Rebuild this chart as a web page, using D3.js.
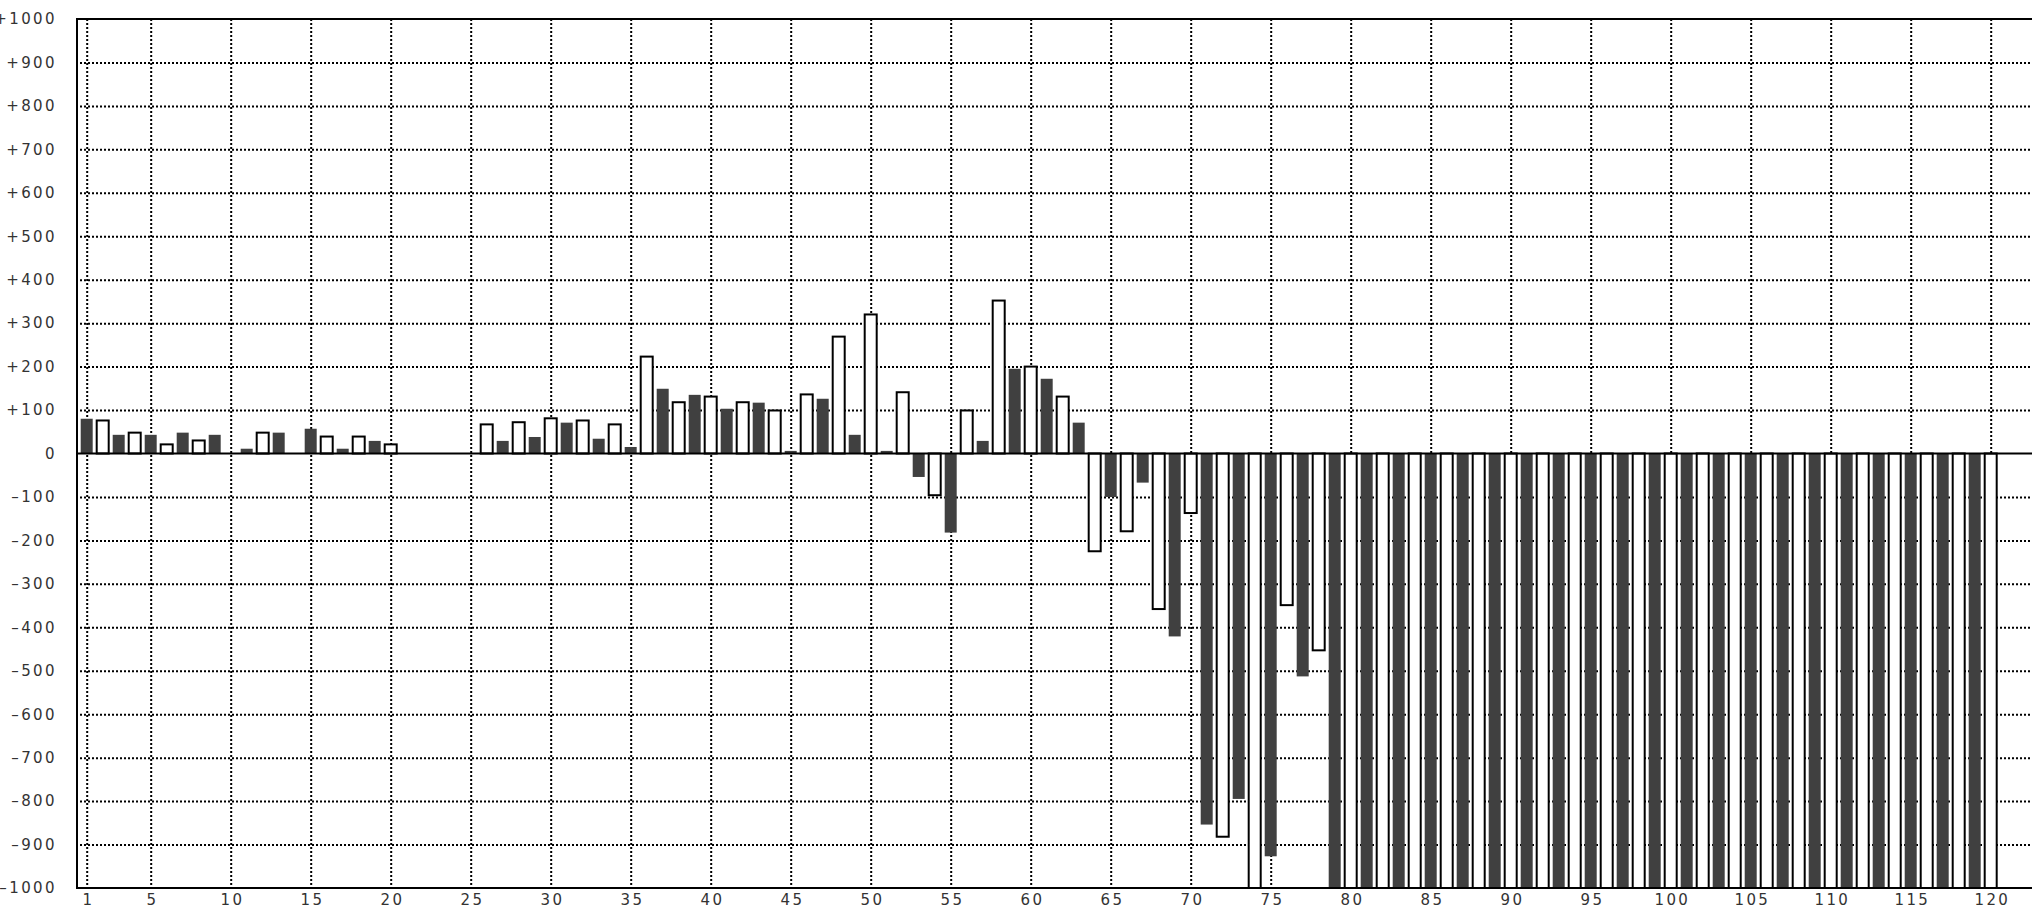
<!DOCTYPE html>
<html>
<head>
<meta charset="utf-8">
<script src="https://cdn.jsdelivr.net/npm/d3@7"></script>
<style>
  html, body { margin: 0; padding: 0; background: #fff; }
  svg { display: block; }
  .lbl { font-family: "DejaVu Sans", sans-serif; font-size: 15px; fill: #333; letter-spacing: 2.4px; }
</style>
</head>
<body>
<svg id="chart" width="2032" height="910"></svg>
<script>
// ---- data ----
// dark (filled) bars at odd positions 1,3,...,119
const darkPositions = d3.range(1, 120, 2);
const darkValues = [
  80, 43, 43, 48, 43, 11, 48, 57, 11, 29,
  null, null, null, 29, 38, 71, 34, 15, 149, 135,
  103, 117, 6, 126, 43, 6, -54, -182, 29, 195,
  172, 71, -100, -67, -421, -854, -795, -927, -513, -1000,
  -1000, -1000, -1000, -1000, -1000, -1000, -1000, -1000, -1000, -1000,
  -1000, -1000, -1000, -1000, -1000, -1000, -1000, -1000, -1000, -1000
];
// white (outlined) bars at even positions 2,4,...,120
const whitePositions = d3.range(2, 121, 2);
const whiteValues = [
  76, 48, 21, 30, null, 48, null, 39, 39, 21,
  null, null, 67, 72, 81, 76, 67, 223, 118, 131,
  118, 99, 136, 269, 320, 141, -96, 99, 352, 200,
  131, -225, -179, -358, -137, -882, -1000, -349, -453, -1000,
  -1000, -1000, -1000, -1000, -1000, -1000, -1000, -1000, -1000, -1000,
  -1000, -1000, -1000, -1000, -1000, -1000, -1000, -1000, -1000, -1000
];
const xTickValues = [1, 5, 10, 15, 20, 25, 30, 35, 40, 45, 50, 55, 60, 65, 70, 75, 80, 85, 90, 95, 100, 105, 110, 115, 120];
const yTickValues = [-1000, -900, -800, -700, -600, -500, -400, -300, -200, -100, 0, 100, 200, 300, 400, 500, 600, 700, 800, 900, 1000];

// ---- layout ----
const plotL = 77, plotR = 2032, plotT = 19, plotB = 888;

const x = d3.scaleLinear().domain([1, 120]).range([86.7, 1990.7]);
const y = d3.scaleLinear().domain([-1000, 1000]).range([plotB, plotT]);

const svg = d3.select("#chart");

const dark = darkPositions.map((p, i) => ({ p, v: darkValues[i] })).filter(d => d.v !== null);
const white = whitePositions.map((p, i) => ({ p, v: whiteValues[i] })).filter(d => d.v !== null);

// grid lines (dotted)
const gx = svg.append("g").attr("transform", `translate(0,${plotT})`)
  .call(d3.axisBottom(x).tickValues(xTickValues).tickSize(plotB - plotT).tickFormat(""));
gx.select(".domain").remove();
gx.selectAll("line").attr("stroke", "#000").attr("stroke-width", 2).attr("stroke-dasharray", "2,2");

const gy = svg.append("g").attr("transform", `translate(${plotL},0)`)
  .call(d3.axisRight(y).tickValues(yTickValues.filter(v => v !== 0 && Math.abs(v) !== 1000)).tickSize(plotR - plotL).tickFormat(""));
gy.select(".domain").remove();
gy.selectAll("line").attr("stroke", "#000").attr("stroke-width", 2).attr("stroke-dasharray", "2,2").attr("transform", "translate(3,0)");

// bars
const bw = 12;
svg.append("g").selectAll("rect").data(dark).join("rect")
  .attr("x", d => x(d.p) - bw / 2)
  .attr("width", bw)
  .attr("y", d => y(Math.max(0, d.v)))
  .attr("height", d => Math.abs(y(d.v) - y(0)))
  .attr("fill", "#404040");

svg.append("g").selectAll("rect").data(white).join("rect")
  .attr("x", d => x(d.p) - bw / 2)
  .attr("width", bw)
  .attr("y", d => y(Math.max(0, d.v)))
  .attr("height", d => Math.abs(y(d.v) - y(0)))
  .attr("fill", "#fff")
  .attr("stroke", "#000")
  .attr("stroke-width", 2);

// frame and zero line
svg.append("line").attr("x1", plotL).attr("x2", plotR).attr("y1", plotT).attr("y2", plotT)
  .attr("stroke", "#000").attr("stroke-width", 2);
svg.append("line").attr("x1", plotL).attr("x2", plotR).attr("y1", plotB).attr("y2", plotB)
  .attr("stroke", "#000").attr("stroke-width", 2);
svg.append("line").attr("x1", plotL).attr("x2", plotL).attr("y1", plotT - 1).attr("y2", plotB + 1)
  .attr("stroke", "#000").attr("stroke-width", 2);
svg.append("line").attr("x1", plotL).attr("x2", plotR).attr("y1", y(0)).attr("y2", y(0))
  .attr("stroke", "#000").attr("stroke-width", 2);

// axis labels
const ay = svg.append("g").attr("transform", "translate(57,0)")
  .call(d3.axisLeft(y).tickValues(yTickValues).tickSize(0).tickPadding(0)
    .tickFormat(v => v > 0 ? "+" + v : (v < 0 ? "\u2013" + Math.abs(v) : "0")));
ay.select(".domain").remove();
ay.attr("font-size", null).attr("font-family", null);
ay.selectAll("text").attr("class", "lbl").attr("fill", null);

const ax = svg.append("g").attr("transform", `translate(1.2,${plotB})`)
  .call(d3.axisBottom(x).tickValues(xTickValues).tickSize(0).tickPadding(0).tickFormat(d3.format("d")));
ax.select(".domain").remove();
ax.attr("font-size", null).attr("font-family", null);
ax.selectAll("text").attr("class", "lbl").attr("y", 17).attr("dy", null).attr("fill", null);
</script>
</body>
</html>
